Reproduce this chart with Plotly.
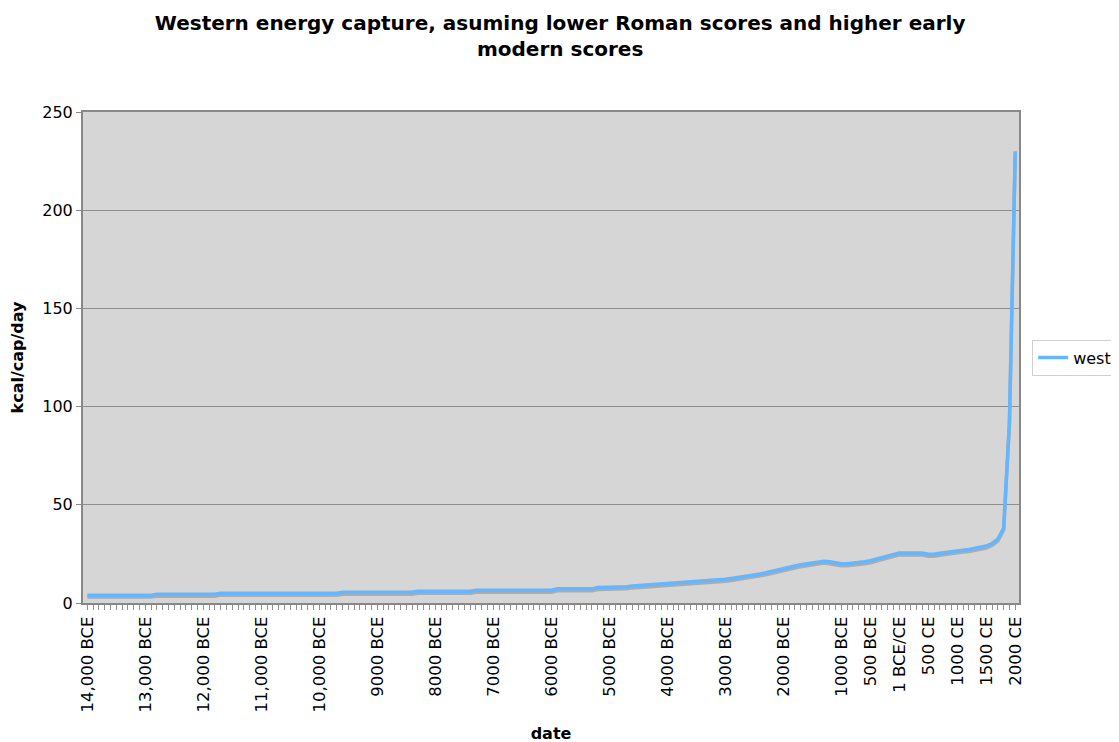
import plotly.graph_objects as go

# one category every 100 years, 14,000 BCE (-14000) to 2000 CE
years = list(range(-14000, 2001, 100))

# kcal/cap/day (thousands), 10 values per millennium
west = [
    4.0, 4.0, 4.0, 4.0, 4.0, 4.0, 4.0, 4.0, 4.0, 4.0,        # 14,000 BCE
    4.0, 4.0, 4.5, 4.5, 4.5, 4.5, 4.5, 4.5, 4.5, 4.5,        # 13,000 BCE
    4.5, 4.5, 4.5, 5.0, 5.0, 5.0, 5.0, 5.0, 5.0, 5.0,        # 12,000 BCE
    5.0, 5.0, 5.0, 5.0, 5.0, 5.0, 5.0, 5.0, 5.0, 5.0,        # 11,000 BCE
    5.0, 5.0, 5.0, 5.0, 5.5, 5.5, 5.5, 5.5, 5.5, 5.5,        # 10,000 BCE
    5.5, 5.5, 5.5, 5.5, 5.5, 5.5, 5.5, 6.0, 6.0, 6.0,        # 9000 BCE
    6.0, 6.0, 6.0, 6.0, 6.0, 6.0, 6.0, 6.5, 6.5, 6.5,        # 8000 BCE
    6.5, 6.5, 6.5, 6.5, 6.5, 6.5, 6.5, 6.5, 6.5, 6.5,        # 7000 BCE
    6.5, 7.2, 7.2, 7.2, 7.2, 7.2, 7.2, 7.2, 7.9, 7.9,        # 6000 BCE
    7.9, 7.9, 7.9, 8.3, 8.7, 8.9, 9.0, 9.2, 9.4, 9.7,        # 5000 BCE
    10.0, 10.2, 10.4, 10.6, 10.8, 11.0, 11.2, 11.4, 11.6, 11.8,  # 4000 BCE
    12.1, 12.5, 12.9, 13.3, 13.7, 14.2, 14.8, 15.4, 16.0, 16.6,  # 3000 BCE
    17.2, 18.0, 18.8, 19.5, 20.0, 20.5, 21.0, 21.3, 21.0, 20.4,  # 2000 BCE
    20.0, 20.0, 20.2, 20.6, 21.0, 21.5, 22.3, 23.1, 24.0, 24.8,  # 1000 BCE
    25.5, 25.5, 25.5, 25.5, 25.4, 24.8, 24.8, 25.3, 25.8, 26.3,  # 1 BCE/CE
    26.7, 26.9, 27.2, 27.7, 28.3, 29.0, 30.3, 32.5, 38.0, 92.0,  # 1000 CE
    230.0,                                                       # 2000 CE
]

# only these categories carry a label
label_years = [-14000, -13000, -12000, -11000, -10000, -9000, -8000, -7000,
               -6000, -5000, -4000, -3000, -2000, -1000, -500, 0, 500,
               1000, 1500, 2000]
label_text = ["14,000 BCE", "13,000 BCE", "12,000 BCE", "11,000 BCE",
              "10,000 BCE", "9000 BCE", "8000 BCE", "7000 BCE", "6000 BCE",
              "5000 BCE", "4000 BCE", "3000 BCE", "2000 BCE", "1000 BCE",
              "500 BCE", "1 BCE/CE", "500 CE", "1000 CE", "1500 CE", "2000 CE"]

labels = dict(zip(label_years, label_text))
tick_text = [labels.get(y, "") for y in years]

font = "DejaVu Sans, Verdana, sans-serif"

fig = go.Figure()

# drop shadow on the base y axis, whose range is nudged so it lands a bit lower
fig.add_trace(go.Scatter(
    x=years, y=west, mode="lines",
    line=dict(color="#acacac", width=3.5), showlegend=False, hoverinfo="skip",
))
# the line itself on the visible value axis (overlay, drawn above the shadow)
fig.add_trace(go.Scatter(
    x=years, y=west, mode="lines", name="west", yaxis="y2",
    line=dict(color="#63b6ff", width=3.5),
))

fig.update_layout(
    width=1120, height=735,
    paper_bgcolor="white",
    plot_bgcolor="#d6d6d6",
    margin=dict(l=75, r=108, t=104, b=140),
    font=dict(family=font, size=16, color="black"),
    title=dict(
        text="Western energy capture, asuming lower Roman scores and higher early<br>modern scores",
        x=0.493, xref="container", xanchor="center",
        y=0.970, yref="container", yanchor="middle",
        font=dict(family=font, size=20, color="black", weight="bold"),
    ),
    legend=dict(
        x=1.013, xanchor="left", y=0.5, yanchor="middle",
        bgcolor="white", bordercolor="#d0d0d0", borderwidth=1,
        itemwidth=30, font=dict(size=16),
    ),
    xaxis=dict(
        range=[-14075, 2065], automargin=False,
        tickmode="array", tickvals=years, ticktext=tick_text,
        tickangle=-90, ticks="outside", ticklen=5, tickcolor="#909090",
        tickfont=dict(size=16.5),
        showgrid=False, zeroline=False,
        showline=True, linecolor="#888888", linewidth=2, mirror=True,
        title=dict(text="date", font=dict(size=16, weight="bold"), standoff=21),
    ),
    yaxis=dict(
        range=[1, 251], automargin=False,
        showgrid=False, zeroline=False, showline=False,
        showticklabels=False, ticks="",
    ),
    yaxis2=dict(
        range=[0, 250], dtick=50, overlaying="y", side="left", automargin=False,
        ticks="outside", ticklen=5, tickcolor="#888888",
        showgrid=True, gridcolor="#8e8e8e", gridwidth=1, zeroline=False,
        showline=True, linecolor="#888888", linewidth=2, mirror=True,
        title=dict(text="kcal/cap/day", font=dict(size=16, weight="bold"), standoff=18),
    ),
)

fig.write_html("out.html")
